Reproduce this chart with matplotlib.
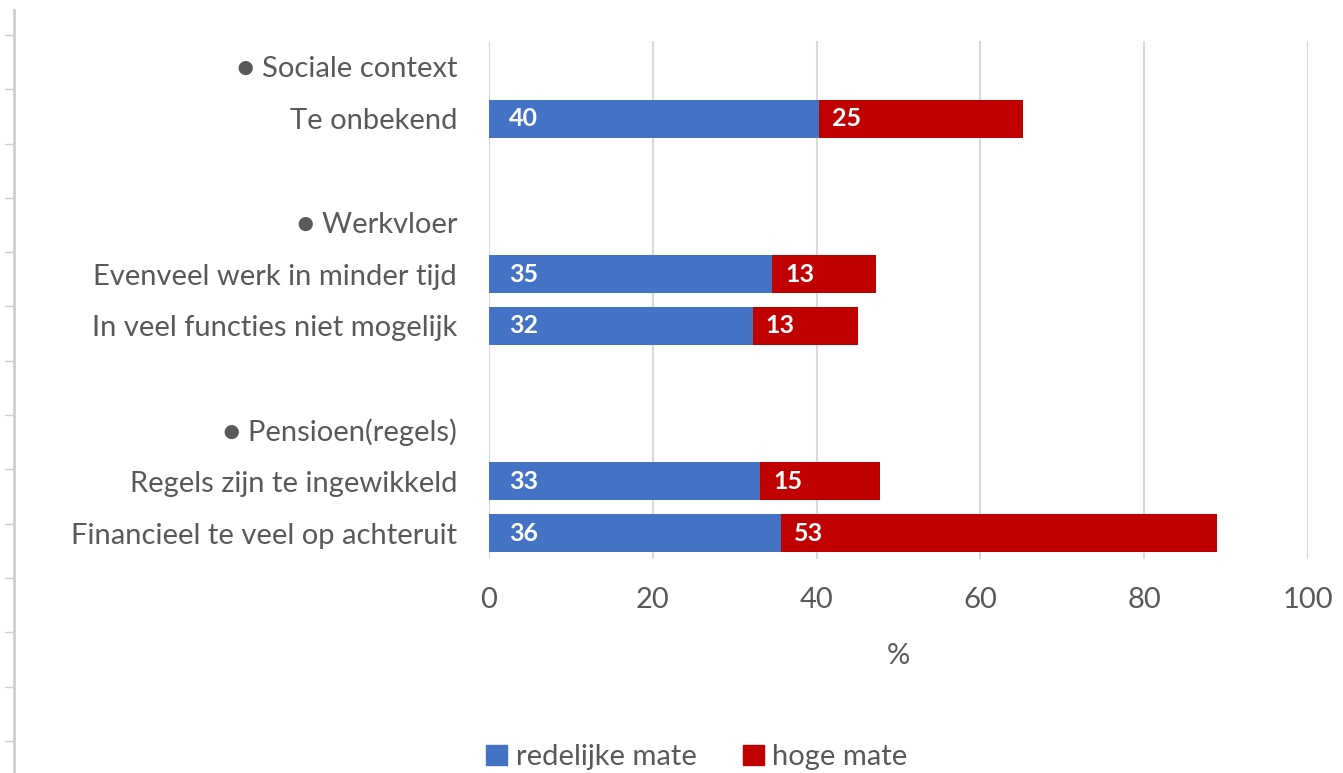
import numpy as np
import matplotlib.pyplot as plt
from matplotlib.lines import Line2D

plt.rcParams['font.family'] = ['Lato', 'DejaVu Sans']

# rijen van boven naar beneden (kopjes hebben geen waarde)
labels = ['\u25cf Sociale context', 'Te onbekend', '',
          '\u25cf Werkvloer', 'Evenveel werk in minder tijd', 'In veel functies niet mogelijk', '',
          '\u25cf Pensioen(regels)', 'Regels zijn te ingewikkeld', 'Financieel te veel op achteruit']
redelijk = [0, 40.3, 0, 0, 34.6, 32.2, 0, 0, 33.1, 35.6]
hoog = [0, 24.9, 0, 0, 12.6, 12.9, 0, 0, 14.6, 53.3]
series_names = ['redelijke mate', 'hoge mate']
xticks = [0, 20, 40, 60, 80, 100]

blauw = '#4472C4'
rood = '#C00000'
grijs = '#595959'

fig = plt.figure(figsize=(13.43, 7.73), dpi=100)
ax = fig.add_axes([0.3641, 0.2768, 0.6098, 0.6702])

y = np.arange(len(labels))
red = np.array(redelijk, dtype=float)
hog = np.array(hoog, dtype=float)
ax.barh(y, red, height=0.73, color=blauw, label=series_names[0], zorder=3)
ax.barh(y, hog, left=red, height=0.73, color=rood, label=series_names[1], zorder=3)

# waarden in de balken
for i in range(len(labels)):
    if red[i] > 0:
        ax.text(2.4, y[i], '%.0f' % red[i], color='white', fontsize=18, fontweight='bold',
                va='center', ha='left', zorder=4)
    if hog[i] > 0:
        ax.text(red[i] + 1.6, y[i], '%.0f' % hog[i], color='white', fontsize=18, fontweight='bold',
                va='center', ha='left', zorder=4)

ax.set_xlim(0, 100)
ax.set_ylim(len(labels) - 0.5, -0.5)
ax.set_xticks(xticks)
ax.set_yticks(y)
ax.set_yticklabels(labels)
ax.tick_params(axis='both', length=0, labelsize=21, labelcolor=grijs)
ax.tick_params(axis='x', pad=20)
ax.tick_params(axis='y', pad=23)
ax.xaxis.grid(True, color='#D9D9D9', linewidth=1.5, zorder=0)
for s in ax.spines.values():
    s.set_visible(False)
ax.set_xlabel('%', fontsize=21, color=grijs, labelpad=22)

handles = [plt.Rectangle((0, 0), 1, 1, color=blauw), plt.Rectangle((0, 0), 1, 1, color=rood)]
fig.legend(handles, series_names, loc='center', bbox_to_anchor=(697 / 1343, 1 - 757 / 773),
           ncol=2, frameon=False, fontsize=21, labelcolor=grijs,
           handlelength=0.7, handleheight=0.7, handletextpad=0.3, columnspacing=1.6)

# liniaal links (schermafdruk)
fig.add_artist(Line2D([0.0104, 0.0104], [0.0, 0.987], color='#CFCFCF', linewidth=2))
for ty in np.arange(35, 773, 54.3):
    fig.add_artist(Line2D([0.004, 0.0095], [1 - ty / 773, 1 - ty / 773], color='#CFCFCF', linewidth=1))

fig.savefig('out.png', dpi=100, facecolor='white')
